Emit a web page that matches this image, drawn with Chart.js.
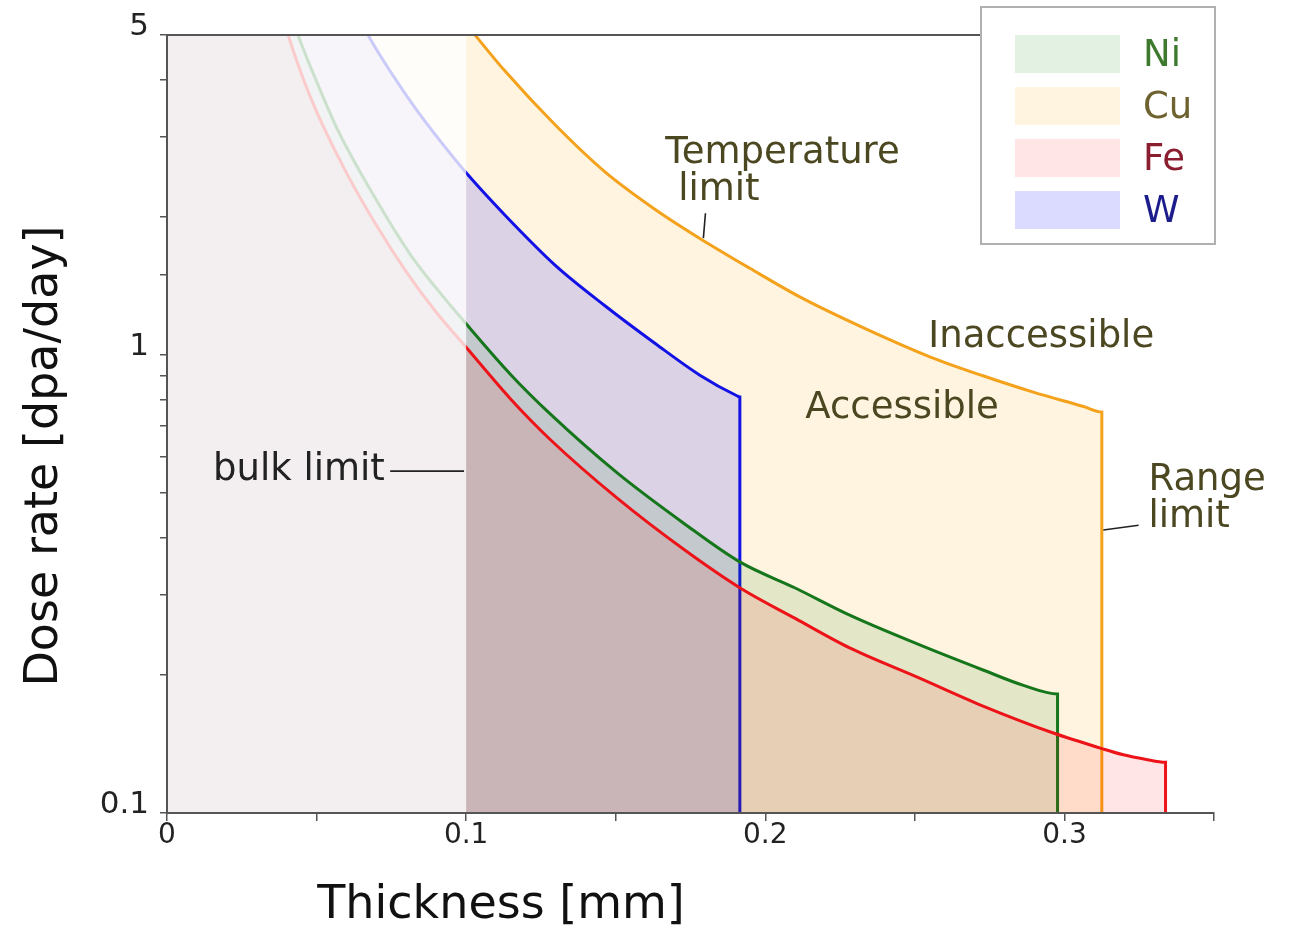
<!DOCTYPE html>
<html>
<head>
<meta charset="utf-8">
<script src="https://cdn.jsdelivr.net/npm/chart.js@4.4.1/dist/chart.umd.min.js"></script>
<style>
  html, body { margin: 0; padding: 0; background: #fff; }
  #wrap { width: 1294px; height: 929px; }
</style>
</head>
<body>
<div id="wrap"><canvas id="doseChart" width="1294" height="929"></canvas></div>
<script>
// Dose rate reachable vs. sample thickness, one curve per metal.
// Each series opens with an off-scale lead-in so its fill reaches x = 0,
// and closes with a drop to the axis at the range limit.
const niThickness = [0, 0.033, 0.0438, 0.050, 0.0569, 0.070, 0.0813, 0.090, 0.100, 0.115, 0.128, 0.1505, 0.1726, 0.1916, 0.210, 0.2284, 0.2508, 0.273, 0.2863, 0.2977, 0.2977];
const niRate      = [8.3, 8.3, 5.0, 3.96, 3.12, 2.18, 1.66, 1.40, 1.17, 0.905, 0.745, 0.553, 0.43, 0.353, 0.31, 0.27, 0.234, 0.205, 0.19, 0.182, 0.1];

const cuThickness = [0, 0.090, 0.103, 0.113, 0.1298, 0.1465, 0.1632, 0.178, 0.195, 0.2117, 0.2318, 0.2552, 0.273, 0.2896, 0.3064, 0.3125, 0.3125];
const cuRate      = [6.4, 6.4, 5.0, 4.17, 3.18, 2.51, 2.08, 1.80, 1.545, 1.338, 1.155, 0.99, 0.90, 0.83, 0.772, 0.751, 0.1];

const feThickness = [0, 0.030, 0.0405, 0.045, 0.050, 0.060, 0.070, 0.080, 0.090, 0.100, 0.115, 0.128, 0.1505, 0.1726, 0.1916, 0.210, 0.2284, 0.2508, 0.273, 0.2963, 0.312, 0.3197, 0.327, 0.3338, 0.3338];
const feRate      = [8.4, 8.4, 5.0, 4.1, 3.4, 2.5, 1.92, 1.52, 1.24, 1.04, 0.80, 0.655, 0.487, 0.377, 0.31, 0.266, 0.229, 0.198, 0.171, 0.1495, 0.1386, 0.134, 0.131, 0.129, 0.1];

const wThickness  = [0, 0.056, 0.0672, 0.075, 0.0836, 0.0946, 0.100, 0.113, 0.1298, 0.1465, 0.1632, 0.178, 0.1905, 0.1915, 0.1915];
const wRate       = [7.0, 7.0, 5.0, 4.13, 3.42, 2.76, 2.5, 2.02, 1.57, 1.28, 1.06, 0.905, 0.815, 0.81, 0.1];

const metalNames = ['Ni', 'Cu', 'Fe', 'W'];
const xTickLabels = [0, 0.1, 0.2, 0.3];
const yTickLabels = [0.1, 1, 5];
const bulkLimit = 0.1;   // thinner samples behave as surfaces, not bulk

const FONT = "'DejaVu Sans', sans-serif";
const NOTE_COLOR = '#4b4721';

function toPoints(xs, ys) {
    return xs.map((x, i) => ({ x: x, y: ys[i] }));
}

function near(list, v) {
    return list.find(t => Math.abs(t - v) < 1e-9);
}

// Region labels, placed in data coordinates (left end of the baseline)
const notes = [
    { text: 'Temperature', x: 0.1666, y: 2.63 },
    { text: 'limit', x: 0.1709, y: 2.18 },
    { text: 'Inaccessible', x: 0.2545, y: 1.04 },
    { text: 'Accessible', x: 0.2134, y: 0.728 },
    { text: 'Range', x: 0.3281, y: 0.507 },
    { text: 'limit', x: 0.3281, y: 0.421 },
    { text: 'bulk limit', x: 0.0154, y: 0.533, color: '#222' }
];
const leaders = [
    [0.1800, 2.04, 0.1793, 1.80],
    [0.0746, 0.558, 0.0993, 0.558],
    [0.3248, 0.425, 0.3130, 0.415]
];

// Washes out everything thinner than the bulk limit
const bulkWash = {
    id: 'bulkWash',
    afterDatasetsDraw(chart) {
        const { ctx, chartArea, scales } = chart;
        const x0 = scales.x.getPixelForValue(0) + 1;
        const x1 = scales.x.getPixelForValue(bulkLimit);
        ctx.save();
        ctx.fillStyle = 'rgba(255,255,255,0.78)';
        ctx.fillRect(x0, chartArea.top + 1, x1 - x0, chartArea.bottom - chartArea.top - 1);
        ctx.restore();
    }
};

const legendTextColors = ['#3d7a2e', '#6e6330', '#8a1e2e', '#1c1c8c'];

const decorations = {
    id: 'decorations',
    afterDraw(chart) {
        const { ctx, chartArea, scales } = chart;
        const px = v => scales.x.getPixelForValue(v);
        const py = v => scales.y.getPixelForValue(v);
        ctx.save();

        // top frame line
        ctx.strokeStyle = '#555';
        ctx.lineWidth = 2;
        ctx.beginPath();
        ctx.moveTo(chartArea.left, chartArea.top);
        ctx.lineTo(chartArea.right, chartArea.top);
        ctx.stroke();

        // leader lines
        ctx.strokeStyle = '#222';
        ctx.lineWidth = 1.6;
        leaders.forEach(l => {
            ctx.beginPath();
            ctx.moveTo(px(l[0]), py(l[1]));
            ctx.lineTo(px(l[2]), py(l[3]));
            ctx.stroke();
        });

        // region labels
        ctx.font = '37px ' + FONT;
        ctx.textAlign = 'left';
        ctx.textBaseline = 'alphabetic';
        notes.forEach(n => {
            ctx.fillStyle = n.color || NOTE_COLOR;
            ctx.fillText(n.text, px(n.x), py(n.y));
        });

        // axis titles
        ctx.fillStyle = '#111';
        ctx.font = '46px ' + FONT;
        ctx.textAlign = 'center';
        ctx.fillText('Thickness [mm]', 501, 918);
        ctx.save();
        ctx.translate(57, 456);
        ctx.rotate(-Math.PI / 2);
        ctx.fillText('Dose rate [dpa/day]', 0, 0);
        ctx.restore();

        // legend box
        const boxL = chartArea.right - 233, boxT = 7, boxW = 234, boxH = 237;
        ctx.fillStyle = '#fff';
        ctx.fillRect(boxL, boxT, boxW, boxH);
        ctx.strokeStyle = '#b0b0b0';
        ctx.lineWidth = 2;
        ctx.strokeRect(boxL, boxT, boxW, boxH);
        ctx.font = '37px ' + FONT;
        ctx.textAlign = 'left';
        ctx.textBaseline = 'middle';
        chart.data.datasets.forEach((ds, i) => {
            const top = boxT + 28 + i * 52;
            ctx.fillStyle = ds.backgroundColor;
            ctx.fillRect(boxL + 34, top, 105, 38);
            ctx.fillStyle = legendTextColors[i];
            ctx.fillText(ds.label, boxL + 162, top + 21);
        });
        ctx.restore();
    }
};

const seriesStyle = [
    { line: '#16761b', fill: 'rgba(0,128,0,0.11)', order: 2 },
    { line: '#f4a21c', fill: 'rgba(255,165,0,0.12)', order: 4 },
    { line: '#ec1418', fill: 'rgba(255,0,0,0.10)', order: 1 },
    { line: '#1212e6', fill: 'rgba(0,0,255,0.14)', order: 3 }
];
const seriesData = [
    toPoints(niThickness, niRate),
    toPoints(cuThickness, cuRate),
    toPoints(feThickness, feRate),
    toPoints(wThickness, wRate)
];

const datasets = metalNames.map((name, i) => ({
    label: name,
    data: seriesData[i],
    borderColor: seriesStyle[i].line,
    backgroundColor: seriesStyle[i].fill,
    borderWidth: 3,
    fill: 'start',
    pointRadius: 0,
    cubicInterpolationMode: 'monotone',
    order: seriesStyle[i].order
}));

new Chart(document.getElementById('doseChart'), {
    type: 'line',
    data: { datasets: datasets },
    options: {
        responsive: false,
        animation: false,
        events: [],
        layout: { padding: { top: 35, right: 80, left: 0, bottom: 0 } },
        plugins: {
            legend: { display: false },
            tooltip: { enabled: false }
        },
        scales: {
            x: {
                type: 'linear',
                min: 0,
                max: 0.35,
                afterFit: s => { s.height = 116; },
                border: { color: '#555', width: 2, z: 1 },
                grid: { drawOnChartArea: false, tickLength: 8, color: '#555', lineWidth: 1.5, z: 1 },
                ticks: {
                    stepSize: 0.05,
                    autoSkip: false,
                    maxRotation: 0,
                    padding: -2,
                    color: '#222',
                    font: { family: FONT, size: 28 },
                    callback: v => {
                        const t = near(xTickLabels, v);
                        return t === undefined ? '' : String(t);
                    }
                }
            },
            y: {
                type: 'logarithmic',
                min: 0.1,
                max: 5,
                afterFit: s => { s.width = 167; },
                border: { color: '#555', width: 2, z: 1 },
                grid: { drawOnChartArea: false, tickLength: 7, color: '#555', lineWidth: 1.5, z: 1 },
                ticks: {
                    autoSkip: false,
                    padding: 11,
                    labelOffset: -8,
                    color: '#222',
                    font: { family: FONT, size: 31 },
                    callback: v => {
                        const t = near(yTickLabels, v);
                        return t === undefined ? '' : String(t);
                    }
                }
            }
        }
    },
    plugins: [bulkWash, decorations]
});
</script>
</body>
</html>
